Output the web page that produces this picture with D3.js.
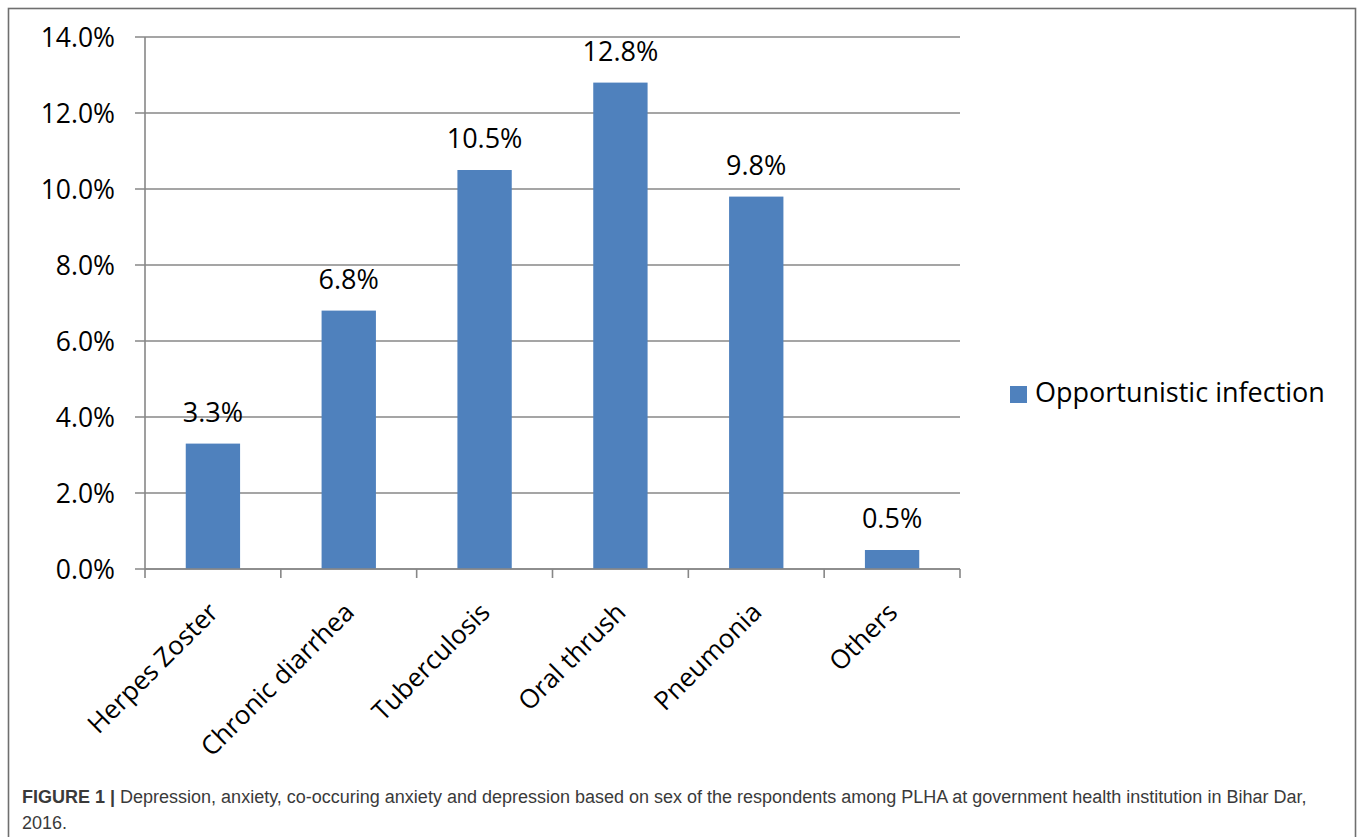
<!DOCTYPE html>
<html>
<head>
<meta charset="utf-8">
<script src="https://cdn.jsdelivr.net/npm/d3@7"></script>
<style>
  html, body { margin: 0; padding: 0; background: #fff; }
  svg { display: block; }
</style>
</head>
<body>
<svg id="chart" width="1358" height="837"></svg>
<script>
const categories = ["Herpes Zoster", "Chronic diarrhea", "Tuberculosis", "Oral thrush", "Pneumonia", "Others"];
const values = [3.3, 6.8, 10.5, 12.8, 9.8, 0.5];
const yTicks = [0, 2, 4, 6, 8, 10, 12, 14];
const seriesName = "Opportunistic infection";
const captionBold = "FIGURE 1 |";
const captionLine1 = " Depression, anxiety, co-occuring anxiety and depression based on sex of the respondents among PLHA at government health institution in Bihar Dar,";
const captionLine2 = "2016.";

const svg = d3.select("#chart");
const plot = { left: 145, right: 960, top: 37, bottom: 569 };
const barColor = "#4F81BD";
const gridColor = "#878787";
const font = "'Open Sans', Calibri, sans-serif";

// outer frame
svg.append("rect")
  .attr("x", 8.5).attr("y", 8.5)
  .attr("width", 1347).attr("height", 860)
  .attr("fill", "none").attr("stroke", "#6f6f6f").attr("stroke-width", 1.6);

const x = d3.scaleBand().domain(categories).range([plot.left, plot.right]).paddingInner(0).paddingOuter(0);
const y = d3.scaleLinear().domain([0, 14]).range([plot.bottom, plot.top]);

// gridlines (with outward tick)
svg.append("g").selectAll("line").data(yTicks).join("line")
  .attr("x1", plot.left - 10).attr("x2", plot.right)
  .attr("y1", d => y(d)).attr("y2", d => y(d))
  .attr("stroke", gridColor).attr("stroke-width", 1.6);

// y axis line
svg.append("line")
  .attr("x1", plot.left).attr("x2", plot.left)
  .attr("y1", plot.top).attr("y2", plot.bottom)
  .attr("stroke", gridColor).attr("stroke-width", 1.6);

// y labels
svg.append("g").selectAll("text").data(yTicks).join("text")
  .attr("x", 115).attr("y", d => y(d))
  .attr("dy", "0.36em")
  .attr("text-anchor", "end")
  .attr("font-family", font).attr("font-size", 26.5).attr("fill", "#000")
  .text(d => d.toFixed(1) + "%");

// bars
const barW = x.bandwidth() / 2.5;
svg.append("g").selectAll("rect").data(values).join("rect")
  .attr("x", (d, i) => x(categories[i]) + (x.bandwidth() - barW) / 2)
  .attr("width", barW)
  .attr("y", d => y(d))
  .attr("height", d => y(0) - y(d))
  .attr("fill", barColor);

// x axis line and ticks
svg.append("line")
  .attr("x1", plot.left).attr("x2", plot.right)
  .attr("y1", plot.bottom).attr("y2", plot.bottom)
  .attr("stroke", gridColor).attr("stroke-width", 1.6);
const tickXs = categories.map(c => x(c)).concat([plot.right]);
svg.append("g").selectAll("line").data(tickXs).join("line")
  .attr("x1", d => d).attr("x2", d => d)
  .attr("y1", plot.bottom).attr("y2", plot.bottom + 9)
  .attr("stroke", gridColor).attr("stroke-width", 1.6);

// value labels
svg.append("g").selectAll("text").data(values).join("text")
  .attr("x", (d, i) => x(categories[i]) + x.bandwidth() / 2)
  .attr("y", d => y(d) - 22)
  .attr("text-anchor", "middle")
  .attr("font-family", font).attr("font-size", 27).attr("fill", "#000")
  .text(d => d.toFixed(1) + "%");

// x labels rotated
svg.append("g").selectAll("text").data(categories).join("text")
  .attr("transform", d => `translate(${x(d) + x.bandwidth() / 2 - 6},${plot.bottom + 32}) rotate(-45)`)
  .attr("text-anchor", "end")
  .attr("dy", "0.7em")
  .attr("font-family", font).attr("font-size", 26).attr("fill", "#000")
  .text(d => d);

// legend
const lg = svg.append("g");
lg.append("rect").attr("x", 1010).attr("y", 386).attr("width", 17).attr("height", 17).attr("fill", barColor);
lg.append("text").attr("x", 1035).attr("y", 402)
  .attr("font-family", font).attr("font-size", 27).attr("fill", "#000")
  .text(seriesName);

// caption
const cap = svg.append("text").attr("x", 22).attr("y", 803)
  .attr("font-family", "'Liberation Sans', Arial, sans-serif").attr("font-size", 18).attr("fill", "#3a3a3a");
cap.append("tspan").attr("font-weight", "bold").text(captionBold);
cap.append("tspan").text(captionLine1);
svg.append("text").attr("x", 22).attr("y", 829)
  .attr("font-family", "'Liberation Sans', Arial, sans-serif").attr("font-size", 18).attr("fill", "#3a3a3a")
  .text(captionLine2);
</script>
</body>
</html>
